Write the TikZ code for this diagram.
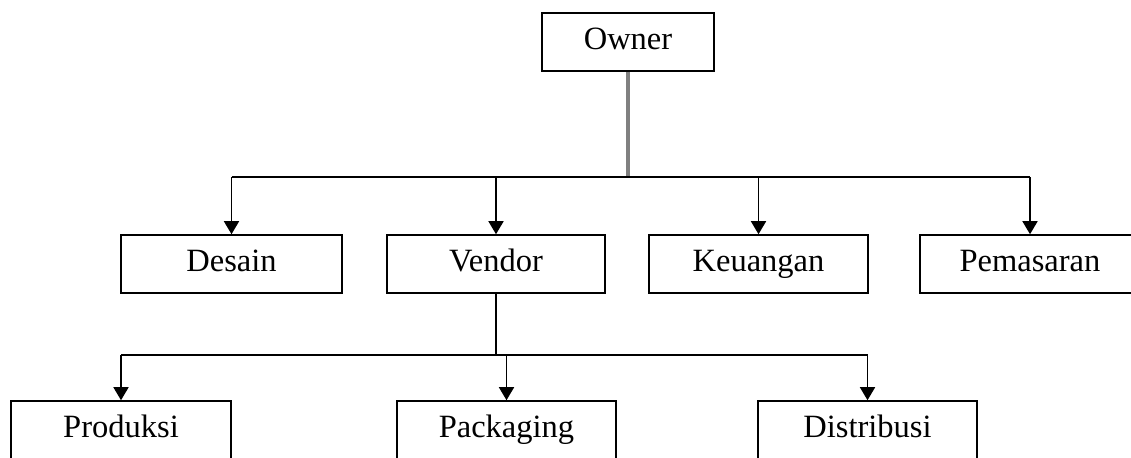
\documentclass[tikz,border=0pt]{standalone}
\usepackage{fontspec}
\setmainfont{Liberation Serif}
\usetikzlibrary{arrows.meta}

\begin{document}
\begin{tikzpicture}[x=0.02cm, y=-0.02cm, line width=0.9pt,
  box/.style={draw, rectangle, inner sep=0pt, minimum height=1.16cm,
    text height=0.95em, text depth=0.05em, font=\fontsize{18.5}{21}\selectfont},
  >={Triangle[width=0.3cm, length=0.26cm]}]
\path[use as bounding box] (0,0) rectangle (1131,457);
\clip (0,0) rectangle (1131,457);

\node[box, minimum width=3.44cm] (owner) at (628,42) {Owner};
\node[box, minimum width=4.42cm] (desain) at (231.5,264) {Desain};
\node[box, minimum width=4.36cm] (vendor) at (496,264) {Vendor};
\node[box, minimum width=4.38cm] (keuangan) at (758.5,264) {Keuangan};
\node[box, minimum width=4.4cm] (pemasaran) at (1030,264) {Pemasaran};
\node[box, minimum width=4.4cm] (produksi) at (121,430) {Produksi};
\node[box, minimum width=4.38cm] (packaging) at (506.5,430) {Packaging};
\node[box, minimum width=4.38cm] (distribusi) at (867.5,430) {Distribusi};

\coordinate (top bus) at (628,177);
\coordinate (low bus) at (496,355);

\draw[gray, line width=1.8pt] (owner) -- (top bus);
\draw (desain |- top bus) -- (pemasaran |- top bus);
\foreach \n in {desain,vendor,keuangan,pemasaran}
  \draw[->] (\n |- top bus) -- (\n);

\draw (vendor) -- (low bus);
\draw (produksi |- low bus) -- (distribusi |- low bus);
\foreach \n in {produksi,packaging,distribusi}
  \draw[->] (\n |- low bus) -- (\n);
\end{tikzpicture}
\end{document}
